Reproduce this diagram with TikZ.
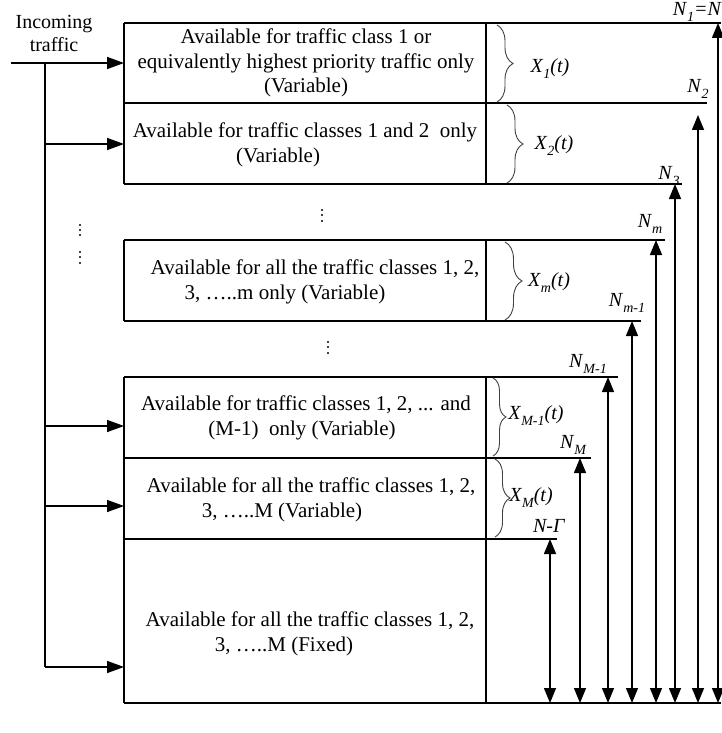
\documentclass[tikz,border=0pt]{standalone}
\usepackage{fontspec}
\setmainfont{Liberation Serif}
\usetikzlibrary{arrows.meta,decorations.pathreplacing}
\newcommand\lbl[2]{\textit{#1}\raisebox{-0.3em}{\fontsize{14}{14}\selectfont\itshape #2}}
\begin{document}
\begin{tikzpicture}[x=1pt,y=-1pt,
  boxline/.style={line width=1.5pt},
  feedarrow/.style={line width=1.5pt,-{Triangle[length=17pt,width=12pt]}},
  levelarrow/.style={line width=1.5pt,{Triangle[length=15pt,width=12pt]}-{Triangle[length=15pt,width=12pt]}},
  boxtxt/.style={font=\fontsize{21}{24.5}\selectfont,align=center,inner sep=0pt},
  labtxt/.style={font=\fontsize{20}{22}\selectfont,inner sep=0pt},
  brc/.style={decorate,decoration={brace,amplitude=#1},line width=0.9pt,black!75},
  dotmark/.style={circle,fill=black,inner sep=0pt,minimum size=2.4pt}]
\useasboundingbox (0,0) rectangle (721,733);

% incoming traffic
\node[font=\fontsize{20}{23}\selectfont,align=center,inner sep=0pt] (inc) at (54,33) {Incoming\\traffic};
\coordinate (src) at (11,63);
\coordinate (j1) at (45,63);
\coordinate (j2) at (45,144);
\coordinate (j3) at (45,426);
\coordinate (j4) at (45,506);
\coordinate (j5) at (45,667);
\coordinate (e1) at (124,63);
\coordinate (e2) at (124,144);
\coordinate (e3) at (124,426);
\coordinate (e4) at (124,506);
\coordinate (e5) at (124,667);
\draw[feedarrow] (src) -- (e1);
\draw[boxline] (j1) -- (j5);
\draw[feedarrow] (j2) -- (e2);
\draw[feedarrow] (j3) -- (e3);
\draw[feedarrow] (j4) -- (e4);
\draw[feedarrow] (j5) -- (e5);

% left dots
\foreach \y in {225,230,235,252,257,263} \node[dotmark] at (80,\y) {};
% middle dots
\foreach \y in {210,215,221} \node[dotmark] at (322,\y) {};
\foreach \y in {342,347,353} \node[dotmark] at (328,\y) {};

% horizontal level lines
\draw[boxline] (124,23) -- (721,23);
\draw[boxline] (124,103) -- (707,103);
\draw[boxline] (124,184) -- (682,184);
\draw[boxline] (124,240) -- (665,240);
\draw[boxline] (124,321) -- (641,321);
\draw[boxline] (124,377) -- (618,377);
\draw[boxline] (124,458) -- (591,458);
\draw[boxline] (124,539) -- (557,539);
\draw[boxline] (124,703) -- (721,703);
% box verticals
\draw[boxline] (124,23) -- (124,184);
\draw[boxline] (486,23) -- (486,184);
\draw[boxline] (124,240) -- (124,321);
\draw[boxline] (486,240) -- (486,321);
\draw[boxline] (124,377) -- (124,703);
\draw[boxline] (486,377) -- (486,703);

% box texts
\node[boxtxt] (b1) at (306,63) {Available for traffic class 1 or\\equivalently highest priority traffic only\\(Variable)};
\node[boxtxt] (b2) at (305,145) {Available for traffic classes 1 and 2\ \ only\\(Variable)\hspace*{54pt}};
\node[boxtxt] (bm) at (315,282) {Available for all the traffic classes 1, 2,\\3, …..m only (Variable)\hspace*{60pt}};
\node[boxtxt] (bM1) at (306,418) {Available for traffic classes 1, 2, ... and\\(M-1)\ \ only (Variable)\hspace*{8pt}};
\node[boxtxt] (bM) at (311,500) {Available for all the traffic classes 1, 2,\\3, …..M (Variable)\hspace*{58pt}};
\node[boxtxt] (bF) at (310,634) {Available for all the traffic classes 1, 2,\\3, …..M (Fixed)\hspace*{52pt}};

% level arrows
\draw[levelarrow] (718,23) -- (718,703);
\draw[levelarrow] (698,115) -- (698,703);
\draw[levelarrow] (675,184) -- (675,703);
\draw[levelarrow] (656,240) -- (656,703);
\draw[levelarrow] (632,321) -- (632,703);
\draw[levelarrow] (608,377) -- (608,703);
\draw[levelarrow] (580,458) -- (580,703);
\draw[levelarrow] (550,539) -- (550,703);

% level labels
\node[labtxt,anchor=east] (n1) at (722,12) {\lbl{N}{1}\textit{=N}};
\node[labtxt] (n2) at (698,89) {\lbl{N}{2}};
\node[labtxt] (n3) at (669,176) {\lbl{N}{3}};
\node[labtxt] (nm) at (650,224) {\lbl{N}{m}};
\node[labtxt] (nm1) at (627,303) {\lbl{N}{m-1}};
\node[labtxt] (nM1) at (588,364) {\lbl{N}{M-1}};
\node[labtxt] (nM) at (573,445) {\lbl{N}{M}};
\node[labtxt] (ng) at (549,526) {\textit{N-Γ}};

% braces
\draw[brc=16pt] (497,25) -- (497,102);
\draw[brc=16pt] (507,105) -- (507,183);
\draw[brc=17pt] (505,242) -- (505,320);
\draw[brc=13pt] (493,378) -- (493,456);
\draw[brc=15pt] (495,459) -- (495,537);
\node[labtxt] (x1) at (550,69) {\lbl{X}{1}\textit{(t)}};
\node[labtxt] (x2) at (554,146) {\lbl{X}{2}\textit{(t)}};
\node[labtxt] (xm) at (549,283) {\lbl{X}{m}\textit{(t)}};
\node[labtxt] (xM1) at (536,416) {\lbl{X}{M-1}\textit{(t)}};
\node[labtxt] (xM) at (531,498) {\lbl{X}{M}\textit{(t)}};
\end{tikzpicture}
\end{document}
